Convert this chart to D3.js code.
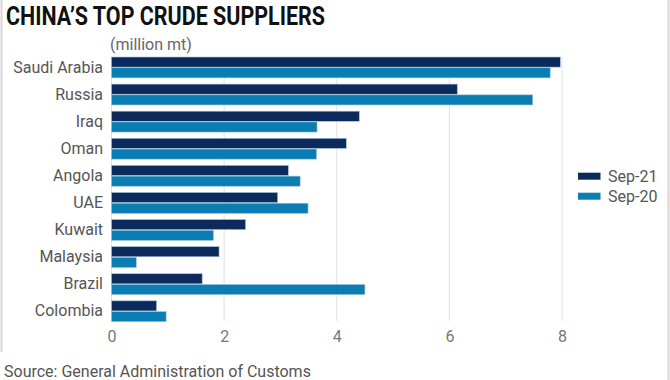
<!DOCTYPE html>
<html><head><meta charset="utf-8">
<script src="https://cdn.jsdelivr.net/npm/d3@7"></script>
<style>body{margin:0;background:#fff}svg{display:block}text{font-family:Roboto,"Open Sans",sans-serif}</style>
</head><body>
<svg id="c" width="670" height="380"></svg>
<script>
const categories = ["Saudi Arabia","Russia","Iraq","Oman","Angola","UAE","Kuwait","Malaysia","Brazil","Colombia"];
const sep21 = [7.97,6.14,4.40,4.17,3.14,2.95,2.38,1.91,1.61,0.80];
const sep20 = [7.79,7.48,3.65,3.64,3.35,3.49,1.81,0.44,4.50,0.97];
const seriesNames = ["Sep-21","Sep-20"];
const colors = ["#0c2a5b","#0a7db3"];
const xTicks = [0,2,4,6,8];

const svg = d3.select("#c");
// frame
svg.append("line").attr("x1",1.5).attr("x2",1.5).attr("y1",0).attr("y2",352).attr("stroke","#d6d6d6").attr("stroke-width",2);
svg.append("line").attr("x1",668.5).attr("x2",668.5).attr("y1",0).attr("y2",380).attr("stroke","#d6d6d6").attr("stroke-width",2);

const x = d3.scaleLinear().domain([0,8]).range([111.5,562]);
const y = d3.scaleBand().domain(categories).range([53.9,324.8]).paddingInner(0.23).paddingOuter(0.115);
const sub = d3.scaleBand().domain(seriesNames).range([0,y.bandwidth()]).paddingInner(0.06);

svg.append("text").attr("x",6).attr("y",25).attr("font-size",25).attr("font-weight",700)
  .attr("fill","#111").attr("textLength",319).attr("lengthAdjust","spacingAndGlyphs")
  .text("CHINA\u2019S TOP CRUDE SUPPLIERS");
svg.append("text").attr("x",110).attr("y",50).attr("font-size",16).attr("fill","#666").text("(million mt)");

// grid
svg.append("g").selectAll("line").data(xTicks).join("line")
  .attr("x1",d=>x(d)).attr("x2",d=>x(d)).attr("y1",57).attr("y2",321)
  .attr("stroke","#e2e2e2").attr("stroke-width",1);

// axis labels
const xa = svg.append("g").attr("transform","translate(0,321)").call(d3.axisBottom(x).tickValues(xTicks).tickSize(0).tickPadding(10).tickFormat(d3.format("d")));
xa.select(".domain").remove();
xa.selectAll("text").attr("font-size",16).attr("fill","#777").attr("font-family","Roboto,sans-serif");

const ya = svg.append("g").attr("transform","translate(103,0)").call(d3.axisLeft(y).tickSize(0).tickPadding(0));
ya.select(".domain").remove();
ya.selectAll("text").attr("font-size",16).attr("fill","#555").attr("font-family","Roboto,sans-serif");

const rows = categories.map((c,i)=>({c, vals:[sep21[i],sep20[i]]}));
const g = svg.append("g").selectAll("g").data(rows).join("g").attr("transform",d=>`translate(0,${y(d.c)})`);
g.selectAll("rect").data(d=>d.vals.map((v,j)=>({v,s:seriesNames[j],j}))).join("rect")
  .attr("x",x(0)).attr("y",d=>sub(d.s)).attr("height",sub.bandwidth())
  .attr("width",d=>x(d.v)-x(0)).attr("fill",d=>colors[d.j])
  .attr("stroke","#9fc3dc").attr("stroke-width",0.6);

// legend
const lg = svg.append("g").selectAll("g").data(seriesNames).join("g").attr("transform",(d,i)=>`translate(578,${172.7+i*20})`);
lg.append("rect").attr("width",22.5).attr("height",7).attr("fill",(d,i)=>colors[i]);
lg.append("text").attr("x",30).attr("y",9).attr("font-size",16).attr("fill","#555").text(d=>d);

svg.append("text").attr("x",4).attr("y",377).attr("font-size",16).attr("fill","#555").text("Source: General Administration of Customs");
</script>
</body></html>
